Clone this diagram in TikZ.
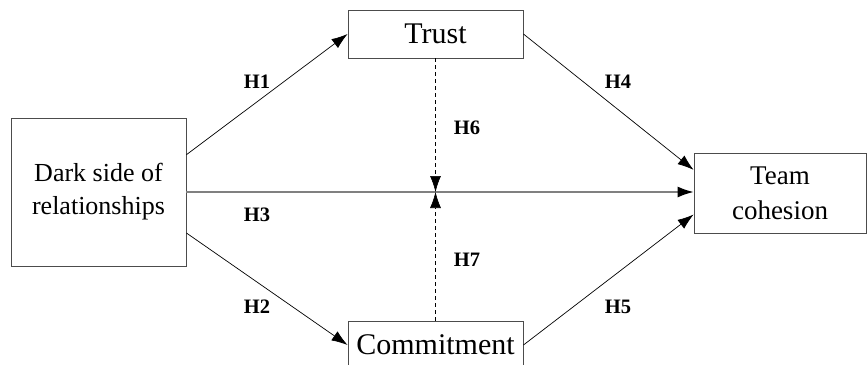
\documentclass[tikz,border=0pt]{standalone}
\usepackage{fontspec}
\setmainfont{Liberation Serif}
\usetikzlibrary{positioning}
\usetikzlibrary{arrows.meta}

\begin{document}
\begin{tikzpicture}[x=1pt,y=-1pt,
  box/.style={draw=black!70, line width=0.9pt, inner sep=0pt},
  hyp/.style={font=\fontsize{20.5}{24}\selectfont\bfseries},
  arr/.style={-{Latex[length=16pt,width=11pt,color=black]}, line width=0.7pt},
  moder/.style={arr, line width=0.6pt, dash pattern=on 4pt off 3pt}]
  \useasboundingbox (0,0) rectangle (867,364);
  \clip (0,0) rectangle (867,364);

  \node[box, text badly centered, text width=175pt, minimum width=175pt, minimum height=148pt, font=\fontsize{26}{33}\selectfont] (dark) at (98.5,192) {Dark side of\\relationships};
  \node[box, minimum width=175pt, minimum height=48pt, font=\fontsize{30}{34}\selectfont] (trust) at (435.5,34) {Trust};
  \node[box, minimum width=175pt, minimum height=48pt, font=\fontsize{30}{34}\selectfont] (commit) at (435.5,345) {Commitment};
  \node[box, text badly centered, text width=172pt, minimum width=172pt, minimum height=80pt, font=\fontsize{27}{35}\selectfont] (team) at (780,193) {Team\\cohesion};

  \coordinate (meet) at (trust.south |- dark.east);
  \coordinate (goal) at (dark.east -| team.west);

  \draw[arr] (dark.23.5) -- (trust.west);
  \draw[arr] (dark.-25) -- (commit.west);
  \draw[arr, draw=black!50, line width=1.3pt] (dark.east) -- (goal);
  \draw[arr] (trust.east) -- (team.165);
  \draw[arr] (commit.east) -- (team.194.5);
  \draw[moder] (trust.south) -- (meet);
  \draw[moder] (commit.north) -- (meet);

  \node[hyp] (h1) at (257,82) {H1};
  \node[hyp] (h2) at (257,307) {H2};
  \node[hyp] (h3) at (257,215) {H3};
  \node[hyp] (h4) at (618,82) {H4};
  \node[hyp] (h5) at (618,307) {H5};
  \node[hyp] (h6) at (467,128) {H6};
  \node[hyp] (h7) at (467,260) {H7};
\end{tikzpicture}
\end{document}
